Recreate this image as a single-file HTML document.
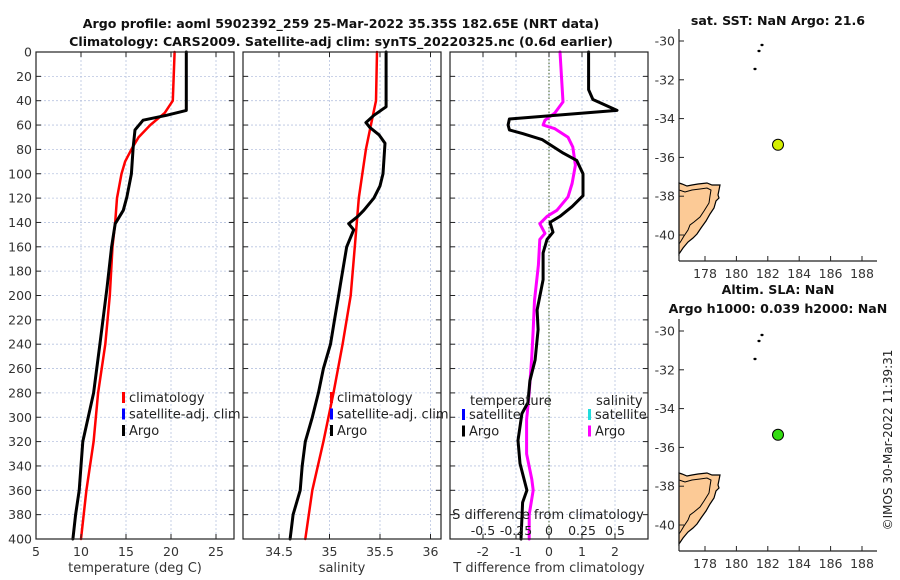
<!DOCTYPE html>
<html><head><meta charset="utf-8"><style>
html,body{margin:0;padding:0;background:#fff;}
svg{display:block;font-family:"DejaVu Sans","Liberation Sans",sans-serif;}
</style></head><body>
<svg id="fig" width="900" height="580" viewBox="0 0 900 580">
<text x="341" y="28" text-anchor="middle" font-size="12.6" font-weight="bold" fill="#111">Argo profile: aoml 5902392_259 25-Mar-2022 35.35S 182.65E (NRT data)</text>
<text x="341" y="46" text-anchor="middle" font-size="12.6" font-weight="bold" fill="#111">Climatology: CARS2009. Satellite-adj clim: synTS_20220325.nc (0.6d earlier)</text>
<text x="778" y="25" text-anchor="middle" font-size="12.6" font-weight="bold" fill="#111">sat. SST: NaN Argo: 21.6</text>
<text x="778" y="294" text-anchor="middle" font-size="12.6" font-weight="bold" fill="#111">Altim. SLA: NaN</text>
<text x="778" y="313" text-anchor="middle" font-size="12.6" font-weight="bold" fill="#111">Argo h1000: 0.039 h2000: NaN</text>
<text transform="translate(892,440) rotate(-90)" text-anchor="middle" font-size="12" fill="#222">©IMOS 30-Mar-2022 11:39:31</text>
<g id="g"></g>
</svg>
<script>
// ---- data ----
const tArgoDepth=[0,48,52,56,64,78,100,119,130,141,160,193,240,280,300,320,340,360,380,400];
const tArgoVal=[21.7,21.7,19.5,16.9,16.0,15.8,15.6,15.1,14.7,13.8,13.4,12.9,12.1,11.4,10.8,10.2,10.0,9.8,9.4,9.1];
const tClimDepth=[0,40,50,60,70,80,90,100,120,140,160,200,240,280,320,360,400];
const tClimVal=[20.4,20.2,19.3,17.7,16.4,15.6,14.9,14.5,14.0,13.8,13.5,13.2,12.7,11.9,11.4,10.6,10.0];
const sArgoDepth=[0,45,52,58,62,68,75,100,110,120,130,135,141,146,160,190,200,220,240,260,280,300,320,340,360,380,400];
const sArgoVal=[35.56,35.56,35.44,35.36,35.40,35.49,35.55,35.53,35.50,35.44,35.34,35.28,35.19,35.24,35.17,35.11,35.09,35.05,35.01,34.94,34.89,34.83,34.76,34.73,34.71,34.64,34.61];
const sClimDepth=[0,40,60,80,120,160,200,240,280,320,360,400];
const sClimVal=[35.47,35.46,35.41,35.36,35.29,35.25,35.21,35.13,35.04,34.94,34.83,34.76];
const tDiffDepth=[0,31,39,48,55,60,64,67,72,83,89,100,118,127,135,140,148,154,165,187,212,228,253,270,288,297,319,338,360,370,400];
const tDiffVal=[1.2,1.2,1.33,2.06,-1.2,-1.24,-1.2,-0.8,-0.2,0.43,0.84,1.03,1.03,0.7,0.33,0.03,0.12,-0.06,-0.18,-0.18,-0.36,-0.33,-0.42,-0.58,-0.64,-0.82,-0.94,-0.88,-0.67,-0.8,-0.85];
const sDiffDepth=[0,41,50,56,60,63,70,78,93,108,119,130,135,141,149,154,175,204,228,250,280,302,330,351,360,380,400];
const sDiffVal=[0.083,0.106,0.045,-0.03,-0.045,0.045,0.144,0.18,0.2,0.175,0.144,0.06,-0.015,-0.07,-0.03,-0.07,-0.08,-0.11,-0.12,-0.13,-0.15,-0.17,-0.17,-0.13,-0.12,-0.15,-0.15];
const depthTicks=[0,20,40,60,80,100,120,140,160,180,200,220,240,260,280,300,320,340,360,380,400];
const tTicks=[5,10,15,20,25];
const sTicks=[34.5,35,35.5,36];
const tdTicks=[-2,-1,0,1,2];
const sdTicks=[-0.5,-0.25,0,0.25,0.5];
const argoLon=[182.65], argoLat=[-35.35];
const lonTicks=[178,180,182,184,186,188];
const latTicks=[-30,-32,-34,-36,-38,-40];

const NS='http://www.w3.org/2000/svg';
const G=document.getElementById('g');
function mk(tag,attrs,parent){const e=document.createElementNS(NS,tag);for(const k in attrs)e.setAttribute(k,attrs[k]);(parent||G).appendChild(e);return e;}
const TOP=52,BOT=539;
const yD=d=>TOP+(d/400)*(BOT-TOP);
function lin(d0,d1,r0,r1){return v=>r0+(v-d0)/(d1-d0)*(r1-r0);}

function panel(name,x0,x1,xf,xticks,xlabels,xtitle,grid){
  const grp=mk('g',{});
  
  
  grid.forEach(v=>{const l=mk('line',{x1:xf(v),x2:xf(v),y1:TOP,y2:BOT,stroke:'#b8c4e0','stroke-width':0.8,'stroke-dasharray':'2,2'},grp);
    
    });
  depthTicks.forEach(d=>{if(d>0&&d<400){const l=mk('line',{x1:x0,x2:x1,y1:yD(d),y2:yD(d),stroke:'#b8c4e0','stroke-width':0.8,'stroke-dasharray':'2,2'},grp);
    
    }});
  return grp;
}
function frame(name,x0,x1,xf,xticks,xlabels,xtitle,showY){
  const grp=mk('g',{});
  
  
  mk('rect',{x:x0,y:TOP,width:x1-x0,height:BOT-TOP,fill:'none',stroke:'#222','stroke-width':1.2},grp);
  depthTicks.forEach(d=>{
    mk('line',{x1:x0,x2:x0+5,y1:yD(d),y2:yD(d),stroke:'#222'},grp);
    mk('line',{x1:x1-5,x2:x1,y1:yD(d),y2:yD(d),stroke:'#222'},grp);
    if(showY){const t=mk('text',{x:x0-4,y:yD(d)+4.5,'text-anchor':'end','font-size':12.5,fill:'#333'},grp);t.textContent=d;
      
      }
  });
  xticks.forEach((v,i)=>{
    mk('line',{x1:xf(v),x2:xf(v),y1:BOT,y2:BOT-5,stroke:'#222'},grp);
    mk('line',{x1:xf(v),x2:xf(v),y1:TOP,y2:TOP+5,stroke:'#222'},grp);
    const t=mk('text',{x:xf(v),y:BOT+17,'text-anchor':'middle','font-size':12.5,fill:'#333'},grp);t.textContent=xlabels[i];
    
    
  });
  const tt=mk('text',{x:(x0+x1)/2,y:BOT+33,'text-anchor':'middle','font-size':13,fill:'#333'},grp);tt.textContent=xtitle;
  
  
}
function line(xs,ds,xf,color,w,name){
  const p=xs.map((v,i)=>(i?'L':'M')+xf(v).toFixed(1)+','+yD(ds[i]).toFixed(1)).join(' ');
  const e=mk('path',{d:p,fill:'none',stroke:color,'stroke-width':w,'stroke-linejoin':'round','stroke-linecap':'round'});
  
  
}
function legend(x,y,items){
  items.forEach((it,i)=>{
    const r=mk('rect',{x:x,y:y+i*16.5-9,width:3,height:11,fill:it[1]});
    
    
    const t=mk('text',{x:x+7,y:y+i*16.5+1,'font-size':13,fill:'#222'});t.textContent=it[0];
    
    
  });
}

const xT=lin(5,25,36,216);
panel('temperature-panel',36,234,xT,tTicks,null,null,[10,15,20,25]);
line(tClimVal,tClimDepth,xT,'#ff0000',2.5,'temperature-climatology-line');
line(tArgoVal,tArgoDepth,xT,'#000',3,'temperature-argo-line');
frame('temperature',36,234,xT,tTicks,tTicks.map(String),'temperature (deg C)',true);
legend(122,401,[['climatology','#ff0000'],['satellite-adj. clim','#0000ff'],['Argo','#000']]);

const xS=lin(34.5,35,279,329.5);
panel('salinity-panel',243,441,xS,sTicks,null,null,sTicks);
line(sClimVal,sClimDepth,xS,'#ff0000',2.5,'salinity-climatology-line');
line(sArgoVal,sArgoDepth,xS,'#000',3,'salinity-argo-line');
frame('salinity',243,441,xS,sTicks,['34.5','35','35.5','36'],'salinity',false);
legend(330,401,[['climatology','#ff0000'],['satellite-adj. clim','#0000ff'],['Argo','#000']]);

const xTD=lin(-1,1,516,582);
const xSD=lin(-0.5,0.5,483,615);
panel('difference-panel',450,648,xTD,tdTicks,null,null,tdTicks);
{const z=mk('line',{x1:xTD(0),x2:xTD(0),y1:TOP,y2:BOT,stroke:'#3a5a20','stroke-width':1,'stroke-dasharray':'1.5,2'});

}
line(sDiffVal,sDiffDepth,xSD,'#ff00ff',3,'salinity-difference-line');
line(tDiffVal,tDiffDepth,xTD,'#000',3,'temperature-difference-line');
frame('difference',450,648,xTD,tdTicks,['-2','-1','0','1','2'],'T difference from climatology',false);
{const t=mk('text',{x:548,y:519,'text-anchor':'middle','font-size':13,fill:'#222'});t.textContent='S difference from climatology';


sdTicks.forEach(v=>{const l=mk('text',{x:xSD(v),y:535,'text-anchor':'middle','font-size':12.5,fill:'#222'});l.textContent=String(v);

});}
{const t=mk('text',{x:470,y:405,'font-size':13,fill:'#222'});t.textContent='temperature';


const s=mk('text',{x:596,y:405,'font-size':13,fill:'#222'});s.textContent='salinity';

}
legend(462,418,[['satellite','#0000ff'],['Argo','#000']]);
legend(588,418,[['satellite','#22dddd'],['Argo','#ff00ff']]);

function map(name,oy,dotColor){
  const grp=mk('g',{});
  
  
  const X=lin(178,188,705,862), Y=lin(-30,-40,41+oy,235+oy);
  const top=29+oy, bot=261+oy;
  const pts=[[679,183],[682,184],[687,186],[692,185],[698,184],[707,183],[712,185],[720,185],[719,190],[718,195],[719,198],[716,201],[714,208],[710,214],[706,221],[701,228],[697,234],[693,238],[688,242],[683,248],[679,254]];
  const c=mk('path',{d:'M'+pts.map(p=>p[0]+','+(p[1]+oy)).join(' L')+' Z',fill:'#fcca96',stroke:'#000','stroke-width':1.2},grp);
  
  
  const inner=[[679,190],[685,192],[692,190],[700,189],[707,188],[711,190],[710,196],[709,203],[704,211],[700,217],[694,222],[690,225],[688,230],[684,236],[681,241],[679,244]];
  mk('path',{d:'M'+inner.map(p=>p[0]+','+(p[1]+oy)).join(' L'),fill:'none',stroke:'#000','stroke-width':1},grp);
  [[762,45],[759,51],[755,69]].forEach(p=>mk('ellipse',{cx:p[0],cy:p[1]+oy,rx:1.6,ry:1.2,fill:'#000'},grp));
  argoLon.forEach((lo,i)=>{const d=mk('circle',{cx:X(lo),cy:Y(argoLat[i]),r:5.5,fill:dotColor,stroke:'#000','stroke-width':1},grp);
    
    });
  mk('line',{x1:679,x2:679,y1:top,y2:bot,stroke:'#222','stroke-width':1.2},grp);
  mk('line',{x1:679,x2:877,y1:bot,y2:bot,stroke:'#222','stroke-width':1.2},grp);
  latTicks.forEach(v=>{mk('line',{x1:679,x2:684,y1:Y(v),y2:Y(v),stroke:'#222'},grp);
    const t=mk('text',{x:675,y:Y(v)+4.5,'text-anchor':'end','font-size':12.5,fill:'#333'},grp);t.textContent=String(v);
    
    });
  lonTicks.forEach(v=>{mk('line',{x1:X(v),x2:X(v),y1:bot,y2:bot-5,stroke:'#222'},grp);
    const t=mk('text',{x:X(v),y:bot+17,'text-anchor':'middle','font-size':12.5,fill:'#333'},grp);t.textContent=String(v);
    
    });
}
map('sst-map',0,'#d4ef00');
map('sla-map',290,'#33dd11');
</script>
</body></html>
